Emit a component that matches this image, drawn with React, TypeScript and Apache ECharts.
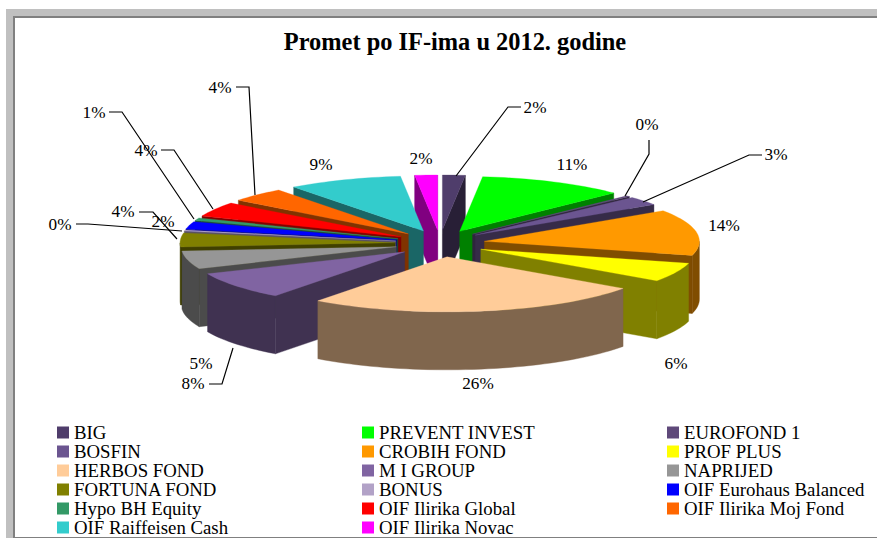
import React, { useEffect, useRef } from "react";
import * as echarts from "echarts";

const CATEGORIES = [
  "BIG", "PREVENT INVEST", "EUROFOND 1", "BOSFIN", "CROBIH FOND", "PROF PLUS",
  "HERBOS FOND", "M I GROUP", "NAPRIJED", "FORTUNA FOND", "BONUS",
  "OIF Eurohaus Balanced", "Hypo BH Equity", "OIF Ilirika Global",
  "OIF Ilirika Moj Fond", "OIF Raiffeisen Cash", "OIF Ilirika Novac",
];
const VALUES = [1.7, 11.0, 0.3, 2.6, 13.5, 5.6, 25.5, 8.2, 5.3, 4.1, 0.3, 2.2, 0.8, 4.3, 4.2, 8.6, 1.7];
const COLORS = [
  "#4F3D6B", "#00FF00", "#5F497A", "#6B5590", "#FF9900", "#FFFF00",
  "#FFCC99", "#8064A2", "#969696", "#808000", "#B2A2C7",
  "#0000FF", "#339966", "#FF0000", "#FF6600", "#33CCCC", "#FF00FF",
];
const TITLE = "Promet po IF-ima u 2012. godine";

// Legend columns, read row by row in the reference
const LEGEND_COLUMNS = [
  { left: 57, textIdx: [0, 3, 6, 9, 12, 15] },
  { left: 362, textIdx: [1, 4, 7, 10, 13, 16] },
  { left: 667, textIdx: [2, 5, 8, 11, 14] },
];

// Label anchors and leader paths (layout only, text comes from VALUES)
const LABEL_LAYOUT: { at: number[]; leader?: number[][] }[] = [
  { at: [535, 107], leader: [[456, 176], [508, 107], [521, 107]] },
  { at: [572, 164] },
  { at: [647, 124], leader: [[625, 196], [649, 154], [649, 140]] },
  { at: [776, 154], leader: [[643, 202], [749, 155], [762, 155]] },
  { at: [724, 225] },
  { at: [676, 363] },
  { at: [478, 383] },
  { at: [193, 383], leader: [[233, 348], [222, 384], [209, 384]] },
  { at: [201, 363] },
  { at: [123, 211], leader: [[177, 239], [153, 212], [139, 212]] },
  { at: [60, 224], leader: [[182, 231], [88, 224], [76, 224]] },
  { at: [163, 221] },
  { at: [94, 112], leader: [[194, 219], [122, 112], [109, 112]] },
  { at: [146, 150], leader: [[213, 209], [174, 150], [161, 150]] },
  { at: [220, 87], leader: [[255, 195], [249, 87], [236, 87]] },
  { at: [321, 164] },
  { at: [421, 158] },
];

const CX = 440, CY = 243.5, RX = 215, RY = 55, EX = 45, EY = 13.5, DEPTH = 58;
const SERIF = "Liberation Serif";

const TOTAL = VALUES.reduce((a, b) => a + b, 0);
const ANGLES = VALUES.reduce<number[]>((acc, v) => {
  acc.push(acc[acc.length - 1] + (v / TOTAL) * 360);
  return acc;
}, [0]);

const rad = (d: number) => (d * Math.PI) / 180;

function darken(hex: string) {
  const n = parseInt(hex.slice(1), 16);
  const c = [(n >> 16) & 255, (n >> 8) & 255, n & 255].map((x) => Math.round(x * 0.5));
  return `rgb(${c[0]},${c[1]},${c[2]})`;
}

function renderSlice(index: number) {
  const s = ANGLES[index];
  const e = ANGLES[index + 1];
  const mid = (s + e) / 2;
  const ax = CX + EX * Math.sin(rad(mid));
  const ay = CY - EY * Math.cos(rad(mid));
  const at = (d: number): number[] => [ax + RX * Math.sin(rad(d)), ay - RY * Math.cos(rad(d))];
  const arc = (a: number, b: number) => {
    const n = Math.max(1, Math.ceil((b - a) / 2));
    const pts: number[][] = [];
    for (let i = 0; i <= n; i++) pts.push(at(a + ((b - a) * i) / n));
    return pts;
  };
  const down = (p: number[]) => [p[0], p[1] + DEPTH];
  const base = Math.round(1000 * (1 - Math.cos(rad(mid))));
  const color = COLORS[index];
  const dark = darken(color);
  const wall = (points: number[][], z2: number) => ({
    type: "polygon",
    z2,
    shape: { points },
    style: { fill: dark, stroke: dark, lineWidth: 0.4 },
  });
  const children: any[] = [];
  const apex = [ax, ay];
  if (Math.sin(rad(s)) < 0) {
    const p = at(s);
    children.push(wall([p, apex, down(apex), down(p)], base));
  }
  if (Math.sin(rad(e)) > 0) {
    const p = at(e);
    children.push(wall([p, apex, down(apex), down(p)], base));
  }
  const a = Math.max(s, 90);
  const b = Math.min(e, 270);
  if (a < b) {
    const top = arc(a, b);
    children.push(wall([...top, ...top.slice().reverse().map(down)], base + 1));
  }
  children.push({
    type: "polygon",
    z2: base + 2,
    shape: { points: [apex, ...arc(s, e)] },
    style: { fill: color, stroke: color, lineWidth: 0.3 },
  });
  return { type: "group", children };
}

export default function App() {
  const ref = useRef<HTMLDivElement>(null);
  useEffect(() => {
    document.body.style.margin = "0";
    const chart = echarts.init(ref.current!, undefined, { renderer: "svg" });
    const graphics: any[] = [
      { type: "rect", z: -3, shape: { x: 6, y: 9, width: 871, height: 529 }, style: { fill: "#C0C0C0" } },
      { type: "rect", z: -2, shape: { x: 13, y: 16, width: 864, height: 522 }, style: { fill: "#808080" } },
      { type: "rect", z: -1, shape: { x: 15, y: 18, width: 862, height: 519 }, style: { fill: "#FFFFFF" } },
    ];
    LABEL_LAYOUT.forEach((l, i) => {
      graphics.push({
        type: "text",
        z: 10,
        x: l.at[0],
        y: l.at[1],
        style: {
          text: `${Math.round(VALUES[i])}%`,
          fill: "#000",
          font: `17.2px "${SERIF}"`,
          align: "center",
          verticalAlign: "middle",
        },
      });
      if (l.leader) {
        graphics.push({
          type: "polyline",
          z: 10,
          shape: { points: l.leader },
          style: { stroke: "#000", lineWidth: 1.2, fill: "none" },
        });
      }
    });
    chart.setOption({
      animation: false,
      title: {
        text: TITLE,
        left: 450,
        top: 24,
        textAlign: "center",
        textStyle: { fontFamily: SERIF, fontSize: 24.4, fontWeight: "bold", color: "#000" },
      },
      legend: LEGEND_COLUMNS.map((c) => ({
        orient: "vertical",
        left: c.left,
        top: 423,
        height: 160,
        padding: 0,
        itemGap: 0,
        itemWidth: 12,
        itemHeight: 12,
        icon: "rect",
        selectedMode: false,
        data: c.textIdx.map((i) => CATEGORIES[i]),
        textStyle: { fontFamily: SERIF, fontSize: 18.8, color: "#000", lineHeight: 18.4, padding: [0, 0, 0, 0] },
      })),
      graphic: graphics,
      series: CATEGORIES.map((name, i) => ({
        type: "custom",
        name,
        coordinateSystem: "none",
        itemStyle: { color: COLORS[i] },
        data: [[VALUES[i]]],
        renderItem: () => renderSlice(i),
      })),
    });
    return () => chart.dispose();
  }, []);
  return <div ref={ref} style={{ position: "absolute", left: 0, top: 0, width: 877, height: 538 }} />;
}
